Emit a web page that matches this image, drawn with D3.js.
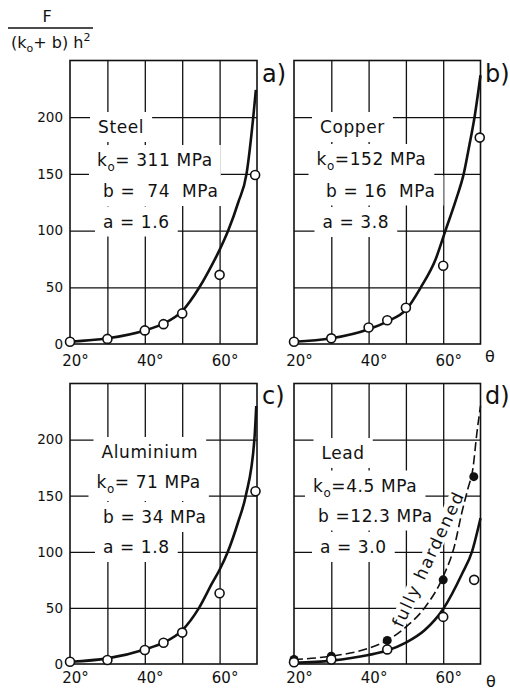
<!DOCTYPE html>
<html><head><meta charset="utf-8">
<script src="https://cdn.jsdelivr.net/npm/d3@7"></script>
<style>
body{margin:0;background:#fff}
svg text{font-family:"DejaVu Sans",sans-serif;fill:#111}
</style></head><body>
<svg width="510" height="691"></svg>
<script>
// theta (deg) vs F/((k0+b)h^2), four metals
const xGrid = [30, 40, 50, 60];
const yGrid = [50, 100, 150, 200];
const xTicks = [20, 40, 60];
const yTicks = [0, 50, 100, 150, 200];

const steelPts = [[20,2],[30,4.5],[40,12],[45,17.5],[50,27],[60,61],[69.5,149]];
const steelCurve = [[20,2],[30,5],[40,12],[45,18],[50,29],[54.6,50],[58,70],[60,83],[62.3,100],[65,125],[67.2,150],[69,200],[69.7,224]];

const copperPts = [[20,2],[30,5],[40,14.5],[45,21],[50,32],[60,69],[69.8,182]];
const copperCurve = [[20,2],[30,5],[40,13],[45,20],[50,30],[54,50],[58,75],[60.6,100],[63.5,128],[65.5,150],[67,175],[68.4,200],[70,237]];

const aluPts = [[20,2],[30,3.5],[40,12.5],[45,19],[50,28],[60,63],[69.6,154]];
const aluCurve = [[20,2],[30,5],[40,13],[45,19],[50,30],[54.5,50],[58,72],[60,84],[62.2,100],[65,127],[67,150],[69.3,200],[69.8,230]];

const leadPts = [[20,1.5],[30,4],[45,13],[60,42],[68.3,75]];
const leadHardPts = [[20,4],[30,7],[45,21],[60,75],[68.2,167]];
const leadCurve = [[20,1],[30,3],[40,8],[45,12],[50,19],[55,30],[60,49],[65,80],[67.7,100],[70,130]];
const leadHardCurve = [[20,4],[30,7],[40,14],[45,21],[50,33],[55,50],[60,78],[63,105],[65,135],[66.6,156],[68,175],[69,205],[70,230]];

const panels = [
  {tag: "a)", x0: 70, x1: 257, y0: 344, y1: 60.5, yLabels: true, tickPad: 11,
   pts: steelPts, curve: steelCurve, tagX: 262, tagY: 82,
   lines: [["Steel", 98, 133], ["k_o= 311 MPa", 97, 166], ["b =  74  MPa", 103, 197], ["a = 1.6", 103, 227.5]]},
  {tag: "b)", x0: 294, x1: 480.5, y0: 344, y1: 60.5, yLabels: false, tickPad: 11,
   pts: copperPts, curve: copperCurve, tagX: 485, tagY: 82,
   lines: [["Copper", 320, 133], ["k_o=152 MPa", 316.5, 165], ["b = 16  MPa", 326, 196.5], ["a = 3.8", 322.5, 228]]},
  {tag: "c)", x0: 70, x1: 257, y0: 664, y1: 383.5, yLabels: true, tickPad: 8,
   pts: aluPts, curve: aluCurve, tagX: 262, tagY: 404,
   lines: [["Aluminium", 101.5, 458], ["k_o= 71 MPa", 96.5, 488], ["b = 34 MPa", 103, 523], ["a = 1.8", 103, 553]]},
  {tag: "d)", x0: 294, x1: 480.5, y0: 664, y1: 383.5, yLabels: false, tickPad: 8,
   pts: leadPts, curve: leadCurve, tagX: 485, tagY: 404,
   lines: [["Lead", 321.5, 459], ["k_o=4.5 MPa", 313, 491.5], ["b =12.3 MPa", 318, 521.5], ["a = 3.0", 320, 553]]}
];

const svg = d3.select("svg");
const ink = "#111";

function textLine(g, str, x, y, size) {
  const t = g.append("text").attr("x", x).attr("y", y)
    .style("font-size", size + "px").style("white-space", "pre").style("letter-spacing", "0.6px");
  const parts = str.split("_o");
  if (parts.length === 2) {
    t.append("tspan").text(parts[0]);
    t.append("tspan").attr("dy", 5).style("font-size", (size * 0.7) + "px").text("o");
    t.append("tspan").attr("dy", -5).text(parts[1]);
  } else {
    t.text(str);
  }
  return t;
}

function whiteBox(g, t, padX, padY) {
  const bb = t.node().getBBox();
  g.insert("rect", () => t.node())
    .attr("x", bb.x - padX).attr("y", bb.y - padY)
    .attr("width", bb.width + 2 * padX).attr("height", bb.height + 2 * padY)
    .attr("fill", "#fff");
}

panels.forEach((p, i) => {
  const x = d3.scaleLinear().domain([20, 70]).range([p.x0, p.x1]);
  const y = d3.scaleLinear().domain([0, 250]).range([p.y0, p.y1]);
  const g = svg.append("g");
  const w = p.x1 - p.x0, h = p.y0 - p.y1;

  // grid
  g.append("g").attr("transform", `translate(${p.x0},0)`)
    .call(d3.axisLeft(y).tickValues(yGrid).tickSize(-w).tickFormat(""))
    .call(a => a.select(".domain").remove())
    .selectAll("line").attr("stroke", ink).attr("stroke-width", 1.3);
  g.append("g").attr("transform", `translate(0,${p.y0})`)
    .call(d3.axisBottom(x).tickValues(xGrid).tickSize(-h).tickFormat(""))
    .call(a => a.select(".domain").remove())
    .selectAll("line").attr("stroke", ink).attr("stroke-width", 1.3);

  g.append("rect").attr("x", p.x0).attr("y", p.y1).attr("width", w).attr("height", h)
    .attr("fill", "none").attr("stroke", ink).attr("stroke-width", 1.6);

  // tick labels
  const xa = g.append("g").attr("transform", `translate(0,${p.y0})`)
    .call(d3.axisBottom(x).tickValues(xTicks).tickSize(0).tickPadding(p.tickPad).tickFormat(d => d + "°"));
  xa.select(".domain").remove();
  xa.selectAll("text").attr("dx", 5).style("font-size", "15px").attr("fill", ink);

  if (p.yLabels) {
    const ya = g.append("g").attr("transform", `translate(${p.x0},0)`)
      .call(d3.axisLeft(y).tickValues(yTicks).tickSize(0).tickPadding(7));
    ya.select(".domain").remove();
    ya.selectAll("text").style("font-size", "13.5px").attr("fill", ink);
  }

  // parameter block
  p.lines.forEach(([s, lx, ly]) => {
    const t = textLine(g, s, lx, ly, 17);
    whiteBox(g, t, 8, 5);
  });

  g.append("text").attr("x", p.tagX).attr("y", p.tagY).style("font-size", "24px").text(p.tag);

  const line = d3.line().x(d => x(d[0])).y(d => y(d[1])).curve(d3.curveMonotoneX);

  if (i === 3) {
    const t = g.append("text")
      .attr("transform", "translate(428,559) rotate(-65)")
      .attr("text-anchor", "middle").attr("dominant-baseline", "central")
      .style("font-size", "17px").style("letter-spacing", "1.8px").text("fully hardened");
    const bb = t.node().getBBox();
    g.insert("rect", () => t.node())
      .attr("transform", "translate(428,559) rotate(-65)")
      .attr("x", bb.x - 2).attr("y", bb.y + 2).attr("width", bb.width + 4).attr("height", bb.height - 4)
      .attr("fill", "#fff");
    g.append("path").attr("d", line(leadHardCurve)).attr("fill", "none")
      .attr("stroke", ink).attr("stroke-width", 1.6).attr("stroke-dasharray", "9,4");
  }

  g.append("path").attr("d", line(p.curve)).attr("fill", "none")
    .attr("stroke", ink).attr("stroke-width", 2.6);

  if (i === 3) {
    g.selectAll(".hard").data(leadHardPts).enter().append("circle")
      .attr("cx", d => x(d[0])).attr("cy", d => y(d[1])).attr("r", 4.5).attr("fill", ink);
  }

  g.selectAll(".pt").data(p.pts).enter().append("circle")
    .attr("cx", d => x(d[0])).attr("cy", d => y(d[1])).attr("r", 4.5)
    .attr("fill", "#fff").attr("stroke", ink).attr("stroke-width", 1.6);
});

// theta symbols
svg.append("text").attr("x", 490).attr("y", 362).attr("text-anchor", "middle").style("font-size", "16px").text("θ");
svg.append("text").attr("x", 491).attr("y", 687).attr("text-anchor", "middle").style("font-size", "16px").text("θ");

// y axis title as fraction
svg.append("text").attr("x", 47).attr("y", 22).attr("text-anchor", "middle").style("font-size", "16px").text("F");
svg.append("line").attr("x1", 8).attr("x2", 93).attr("y1", 28).attr("y2", 28).attr("stroke", ink).attr("stroke-width", 1.3);
const den = svg.append("text").attr("x", 11).attr("y", 48).style("font-size", "16px");
den.append("tspan").text("(k");
den.append("tspan").attr("dy", 4).style("font-size", "11px").text("o");
den.append("tspan").attr("dy", -4).text("+ b) h");
den.append("tspan").attr("dy", -7).style("font-size", "11px").text("2");
</script>
</body></html>
